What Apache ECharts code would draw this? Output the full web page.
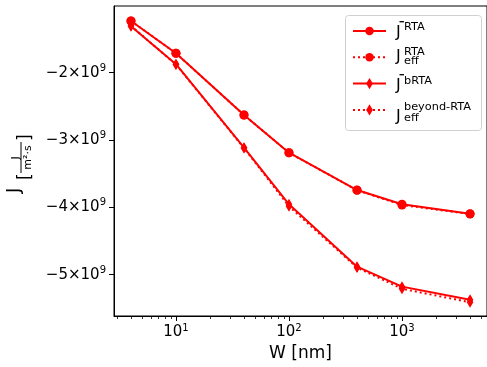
<!DOCTYPE html>
<html>
<head>
<meta charset="utf-8">
<script src="https://cdn.jsdelivr.net/npm/echarts@6/dist/echarts.min.js"></script>
<style>
  html, body { margin: 0; padding: 0; background: #fff; }
  #chart { width: 487px; height: 367px; }
</style>
</head>
<body>
<div id="chart"></div>
<script>
// W in nm
const widths = [4, 10, 40, 100, 400, 1000, 4000]
const jRTA = [-1.232e9, -1.712e9, -2.629e9, -3.189e9, -3.743e9, -3.955e9, -4.095e9]
const jRTAeff = [-1.232e9, -1.712e9, -2.629e9, -3.189e9, -3.746e9, -3.965e9, -4.1e9]
const jbRTA = [-1.312e9, -1.875e9, -3.114e9, -3.955e9, -4.881e9, -5.178e9, -5.373e9]
const jbRTAeff = [-1.305e9, -1.878e9, -3.12e9, -3.985e9, -4.895e9, -5.21e9, -5.41e9]

const xMajorTicks = [10, 100, 1000]
const xMinorTicks = [3, 4, 5, 6, 7, 8, 9, 20, 30, 40, 50, 60, 70, 80, 90,
  200, 300, 400, 500, 600, 700, 800, 900, 2000, 3000, 4000, 5000]
const yTicks = [-5e9, -4e9, -3e9, -2e9]

const RED = '#ff0000'
const FONT = 'DejaVu Sans'
// shapes padded inside a square box so the legend (square icon) keeps their look
const THIN_DIAMOND = 'path://M-5,-5M5,5M0,-5L3,0L0,5L-3,0Z'
const DOT = 'path://M-6.6,-6.6M6.6,6.6M-5,0A5,5,0,1,0,5,0A5,5,0,1,0,-5,0Z'

const pairs = (vals) => widths.map((w, i) => [w, vals[i]])

const supRich = {
  b: { fontSize: 15, fontFamily: FONT, color: '#000' },
  s: { fontSize: 10, fontFamily: FONT, color: '#000', padding: [0, 0, 9, 0] },
}

const chart = echarts.init(document.getElementById('chart'), null, { renderer: 'canvas' })

const lineSeries = (name, vals, symbol, size, dashed) => ({
  name,
  type: 'line',
  data: pairs(vals),
  symbol,
  symbolSize: size,
  showSymbol: true,
  animation: false,
  color: RED,
  itemStyle: { color: RED },
  lineStyle: { color: RED, width: 2, type: dashed ? [2, 3] : 'solid' },
  emphasis: { disabled: true },
})

const legendLabel = (y, bar, sup, sub) => {
  const els = [{
    type: 'text', left: 396, top: y - 8.5,
    style: { text: 'J', fontSize: 16, fontFamily: FONT, fill: '#000' },
  }]
  if (bar) {
    els.push({ type: 'line', shape: { x1: 399.5, y1: y - 11.3, x2: 404, y2: y - 11.3 },
      style: { stroke: '#000', lineWidth: 1.3 } })
  }
  if (sup) {
    els.push({ type: 'text', left: 404, top: sup[1] - 6.5,
      style: { text: sup[0], fontSize: 11.3, fontFamily: FONT, fill: '#000' } })
  }
  if (sub) {
    els.push({ type: 'text', left: 404, top: sub[1] - 6.5,
      style: { text: sub[0], fontSize: 11.3, fontFamily: FONT, fill: '#000' } })
  }
  return els
}

const option = {
  animation: false,
  grid: {
    left: 114, top: 6, right: -3, bottom: 51,
    show: true, borderColor: '#000', borderWidth: 1, backgroundColor: 'transparent',
  },
  legend: {
    orient: 'vertical',
    left: 352,
    top: 24,
    itemWidth: 33,
    itemHeight: 14,
    itemGap: 13.7,
    padding: 0,
    selectedMode: false,
    formatter: () => '',
    textStyle: { fontSize: 8 },
    data: ['J_RTA', 'J_RTA_eff', 'J_bRTA', 'J_bRTA_eff'],
  },
  xAxis: [{
    type: 'log',
    logBase: 10,
    min: 2.83,
    max: 5650,
    position: 'bottom',
    name: 'W [nm]',
    nameLocation: 'middle',
    nameGap: 28,
    nameTextStyle: { fontSize: 17, fontFamily: FONT, color: '#000' },
    axisLine: { show: true, lineStyle: { color: '#000', width: 1 } },
    axisTick: { show: true, length: 5, customValues: xMajorTicks, lineStyle: { color: '#000', width: 1 } },
    axisLabel: {
      customValues: xMajorTicks,
      margin: 7,
      formatter: (v) => '{b|10}{s|' + Math.round(Math.log10(v)) + '}',
      rich: supRich,
    },
    splitLine: { show: false },
  }, {
    type: 'log',
    logBase: 10,
    min: 2.83,
    max: 5650,
    position: 'bottom',
    axisLine: { show: false },
    axisTick: { show: true, length: 3, customValues: xMinorTicks, lineStyle: { color: '#000', width: 0.8 } },
    axisLabel: { show: false },
    splitLine: { show: false },
  }],
  yAxis: {
    type: 'value',
    min: -5.614e9,
    max: -1.01e9,
    axisLine: { show: true, lineStyle: { color: '#000', width: 1 } },
    axisTick: { show: true, length: 5, customValues: yTicks, lineStyle: { color: '#000', width: 1 } },
    axisLabel: {
      customValues: yTicks,
      margin: 8,
      formatter: (v) => '{b|\u2212' + Math.round(-v / 1e9) + '\u00d710}{s|9}',
      rich: supRich,
    },
    splitLine: { show: false },
  },
  series: [
    lineSeries('J_RTA', jRTA, DOT, 11.9, false),
    lineSeries('J_RTA_eff', jRTAeff, DOT, 11.9, true),
    lineSeries('J_bRTA', jbRTA, THIN_DIAMOND, 11, false),
    lineSeries('J_bRTA_eff', jbRTAeff, THIN_DIAMOND, 11, true),
  ],
  graphic: [
    // legend frame
    {
      type: 'rect', z: -1,
      shape: { x: 345.5, y: 15.5, width: 136, height: 115, r: 3 },
      style: { fill: 'rgba(255,255,255,0.8)', stroke: '#d0d0d0', lineWidth: 1 },
    },
    ...legendLabel(33, true, ['RTA', 28], null),
    ...legendLabel(57, false, ['RTA', 53], ['eff', 62.5]),
    ...legendLabel(86, true, ['bRTA', 82.5], null),
    ...legendLabel(117, false, ['beyond-RTA', 108.5], ['eff', 119.5]),
    // y axis label: J_[J / (m^2 s)], rotated
    {
      type: 'group',
      x: 0, y: 193,
      rotation: Math.PI / 2,
      children: [
        { type: 'text', x: 0, y: 14, style: { text: 'J', fontSize: 18, fontFamily: FONT, fill: '#000', verticalAlign: 'middle' } },
        { type: 'text', x: 13, y: 26, style: { text: '[', fontSize: 17, fontFamily: FONT, fill: '#000', verticalAlign: 'middle' } },
        { type: 'text', x: 35, y: 16.5, style: { text: 'J', fontSize: 11, fontFamily: FONT, fill: '#000', align: 'center', verticalAlign: 'middle' } },
        { type: 'line', shape: { x1: 20, y1: 21, x2: 51, y2: 21 }, style: { stroke: '#000', lineWidth: 1 } },
        { type: 'text', x: 35.5, y: 28, style: { text: 'm\u00b2\u00b7s', fontSize: 11, fontFamily: FONT, fill: '#000', align: 'center', verticalAlign: 'middle' } },
        { type: 'text', x: 52, y: 26, style: { text: ']', fontSize: 17, fontFamily: FONT, fill: '#000', verticalAlign: 'middle' } },
      ],
    },
  ],
}

chart.setOption(option)
</script>
</body>
</html>
